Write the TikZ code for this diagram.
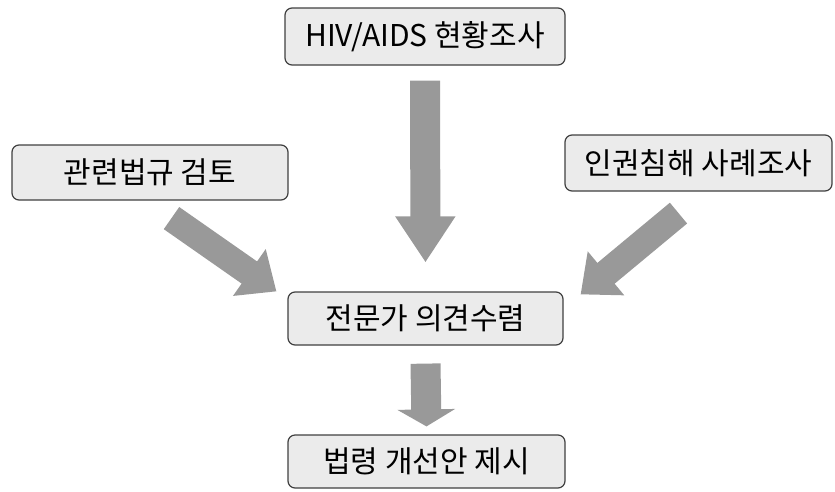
\documentclass[tikz,border=0pt]{standalone}
\usepackage{fontspec}
\setmainfont{Noto Sans CJK KR}
\usetikzlibrary{arrows.meta}
\begin{document}
\begin{tikzpicture}[x=1pt, y=-1pt,
  box/.style={draw=black!75, line width=1.2pt, fill=black!8, rounded corners=7pt,
    minimum height=55pt, font=\fontsize{30}{32}\selectfont},
  fat/.style={draw=black!40, line width=30pt, -{Triangle[length=46pt, width=57pt]}},
  slant/.style={draw=black!40, line width=27pt, -{Triangle[length=33pt, width=55pt]}},
  short/.style={draw=black!40, line width=30pt, -{Triangle[length=17pt, width=57pt]}}]
  \useasboundingbox (0,0) rectangle (835,491);
  \node[box, minimum width=280pt, minimum height=57pt] (survey) at (425,36.5) {HIV/AIDS 현황조사};
  \node[box, minimum width=276pt] (law) at (150,172.5) {관련법규 검토};
  \node[box, minimum width=267pt, minimum height=56pt] (rights) at (698.5,163) {인권침해 사례조사};
  \node[box, minimum width=275pt, minimum height=53pt] (expert) at (425.5,318.5) {전문가 의견수렴};
  \node[box, minimum width=277pt, minimum height=53pt] (result) at (426.5,461.5) {법령 개선안 제시};
  \draw[fat] ([yshift=-15pt]survey.south) -- ([yshift=29pt]expert.north);
  \draw[slant] ([shift={(21.5,17.5)}]law.south) -- ([xshift=-11pt]expert.north west);
  \draw[slant] ([shift={(-20,21.5)}]rights.south) -- ([shift={(17,3)}]expert.north east);
  \draw[short] ([yshift=-18pt]expert.south) -- ([yshift=8pt]result.north);
\end{tikzpicture}
\end{document}
